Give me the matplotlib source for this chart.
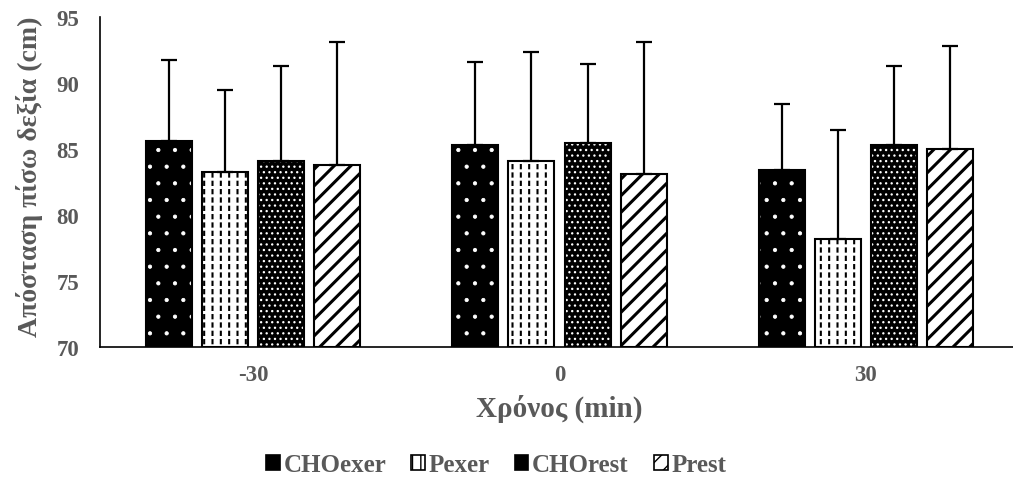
import matplotlib as mpl
import matplotlib.pyplot as plt
import numpy as np

plt.rcParams["font.family"] = ["Liberation Serif", "DejaVu Serif"]
plt.rcParams["font.weight"] = "bold"

groups = ["-30", "0", "30"]
series = ["CHOexer", "Pexer", "CHOrest", "Prest"]

cho_exer = [85.6, 85.3, 83.45]
p_exer = [83.3, 84.1, 78.2]
cho_rest = [84.1, 85.5, 85.3]
p_rest = [83.8, 83.1, 85.0]

cho_exer_sd = [6.2, 6.3, 4.95]
p_exer_sd = [6.2, 8.3, 8.3]
cho_rest_sd = [7.2, 6.0, 6.0]
p_rest_sd = [9.3, 10.0, 7.85]

means = [cho_exer, p_exer, cho_rest, p_rest]
sds = [cho_exer_sd, p_exer_sd, cho_rest_sd, p_rest_sd]

# face, hatch colour, hatch, hatch linewidth, optional white overlay hatch
styles = [
    ("black", "white", ".", 0.6, None),
    ("white", "black", "||", 1.5, "--"),
    ("black", "white", "...", 0.9, None),
    ("white", "black", "//", 2.2, None),
]

grey = "#595959"

fig = plt.figure(figsize=(10.13, 4.85), dpi=100)
ax = fig.add_axes([100 / 1013, 1 - 348.3 / 485, 919 / 1013, 330 / 485])

x = np.arange(len(groups))
width = 0.15
step = 0.183
handles = []
for i, (name, m, s) in enumerate(zip(series, means, sds)):
    face, hcol, hatch, hlw, overlay = styles[i]
    pos = x + (i - 1.5) * step
    base = [v - 70 for v in m]
    with mpl.rc_context({"hatch.linewidth": hlw}):
        ax.bar(pos, base, width, bottom=70, color=face, edgecolor=hcol,
               hatch=hatch, linewidth=0, zorder=2)
        handles.append(plt.Rectangle((0, 0), 1, 1, facecolor=face,
                                     edgecolor="black", linewidth=1.2,
                                     hatch=hatch if face == "white" else None))
    if overlay:
        # white strokes break the vertical lines into dashes
        with mpl.rc_context({"hatch.linewidth": 2.2}):
            ax.bar(pos, base, width, bottom=70, facecolor="none",
                   edgecolor="white", hatch=overlay, linewidth=0, zorder=2.5)
    ax.bar(pos, base, width, bottom=70, facecolor="none",
           edgecolor="black", linewidth=1.5, zorder=3)
    ax.errorbar(pos, m, yerr=[np.zeros(len(s)), s], fmt="none",
                ecolor="black", elinewidth=1.6, capsize=6, capthick=1.6,
                zorder=4)

ax.set_xlim(-0.5, 2.5)
ax.set_ylim(70, 95)
ax.set_yticks(range(70, 96, 5))
ax.set_xticks(x)
ax.set_xticklabels(groups)
ax.tick_params(length=0, labelsize=16.5, colors=grey)
ax.tick_params(axis="y", pad=15)
ax.tick_params(axis="x", pad=12)
for lbl in ax.get_xticklabels() + ax.get_yticklabels():
    lbl.set_fontweight("bold")

for side in ("top", "right"):
    ax.spines[side].set_visible(False)
for side in ("left", "bottom"):
    ax.spines[side].set_linewidth(1.2)
    ax.spines[side].set_color("black")

ax.set_ylabel("Απόσταση πίσω δεξία (cm)", fontsize=20, color=grey,
              fontweight="bold")
ax.yaxis.set_label_coords(-0.062, 0.52)
ax.set_xlabel("Χρόνος (min)", fontsize=21, color=grey, fontweight="bold",
              labelpad=6)

leg = fig.legend(handles, series, loc="center",
                 bbox_to_anchor=(496 / 1013, 1 - 466 / 485),
                 ncol=4, frameon=False, fontsize=18, handlelength=0.55,
                 handleheight=0.55, handletextpad=0.15, columnspacing=1.0)
for t in leg.get_texts():
    t.set_color(grey)
    t.set_fontweight("bold")

fig.savefig("out.png", dpi=100)
